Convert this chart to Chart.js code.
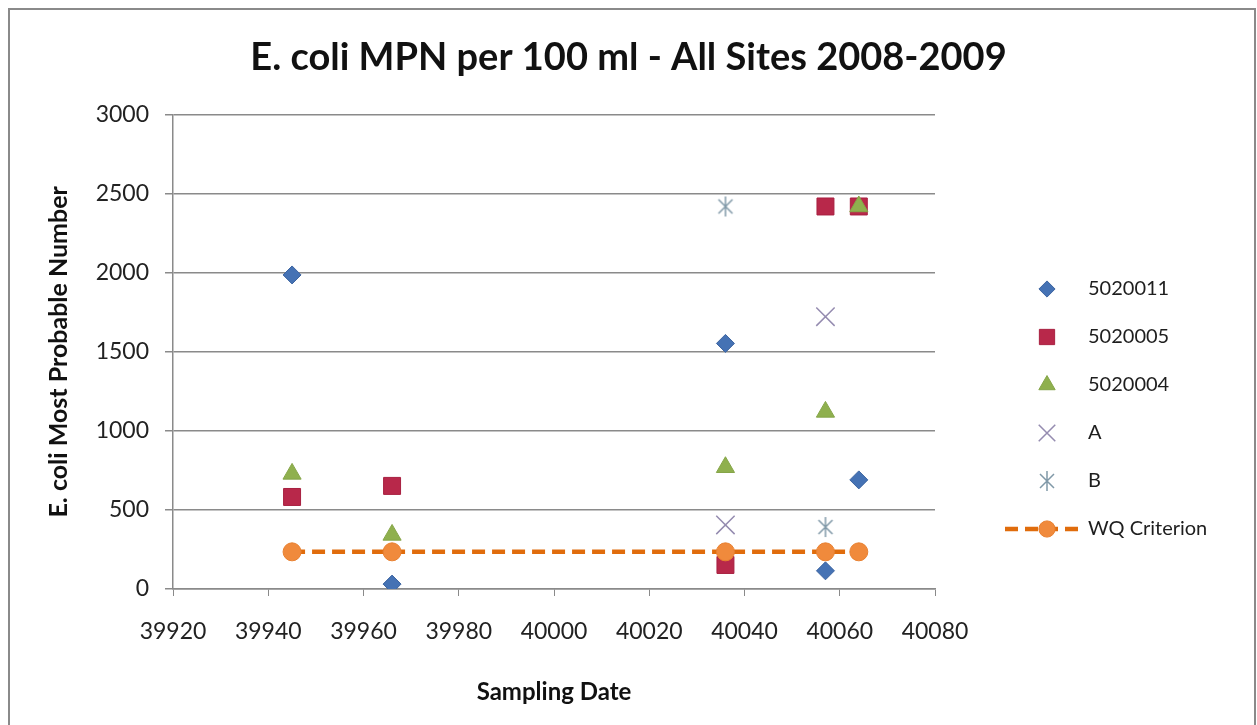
<!DOCTYPE html>
<html>
<head>
<meta charset="utf-8">
<script src="https://cdn.jsdelivr.net/npm/chart.js@4/dist/chart.umd.min.js"></script>
<style>
  body { margin: 0; background: #fff; }
  #frame { position: absolute; left: 8px; top: 8px; width: 1244px; height: 740px; border: 2px solid #8a8a8a; }
  #wrap { position: absolute; left: 0; top: 0; width: 1257px; height: 725px; }
</style>
</head>
<body>
<div id="frame"></div>
<div id="wrap"><canvas id="ecoli" width="1257" height="725"></canvas></div>
<script>
// sampling dates (excel serial numbers) and MPN readings per site
var site5020011X = [39945, 39966, 40036, 40057, 40064];
var site5020011Y = [1986, 31, 1553, 115, 690];
var site5020005X = [39945, 39966, 40036, 40057, 40064];
var site5020005Y = [582, 652, 152, 2419, 2419];
var site5020004X = [39945, 39966, 40036, 40057, 40064];
var site5020004Y = [728, 342, 770, 1120, 2419];
var siteAX = [40036, 40057];
var siteAY = [405, 1722];
var siteBX = [40036, 40057];
var siteBY = [2419, 392];
var wqX = [39945, 39966, 40036, 40057, 40064];
var wqY = [235, 235, 235, 235, 235];

var xTicks = [39920, 39940, 39960, 39980, 40000, 40020, 40040, 40060, 40080];
var yTicks = [0, 500, 1000, 1500, 2000, 2500, 3000];

var FONT = 'Lato, "Open Sans", sans-serif';

function pts(xs, ys) {
    var out = [];
    for (var i = 0; i < xs.length; i++) out.push({x: xs[i], y: ys[i]});
    return out;
}

// excel "star" marker: X with a vertical bar
function starMarker(color) {
    var c = document.createElement('canvas');
    c.width = 22; c.height = 22;
    var g = c.getContext('2d');
    g.strokeStyle = color;
    g.lineWidth = 1.5;
    g.beginPath();
    g.moveTo(4, 4); g.lineTo(18, 18);
    g.moveTo(18, 4); g.lineTo(4, 18);
    g.moveTo(11, 1); g.lineTo(11, 21);
    g.stroke();
    return c;
}
var bMarker = starMarker('#8099a8');

var datasets = [
    { label: '5020011', data: pts(site5020011X, site5020011Y), pointStyle: 'rectRot', pointRadius: 9,
      backgroundColor: '#4572b4', borderColor: '#3c64a0', pointBorderWidth: 1, order: 6 },
    { label: '5020005', data: pts(site5020005X, site5020005Y), pointStyle: 'rect', pointRadius: 12,
      backgroundColor: '#b8284a', borderColor: '#a82040', pointBorderWidth: 1, order: 5 },
    { label: '5020004', data: pts(site5020004X, site5020004Y), pointStyle: 'triangle', pointRadius: 10.5,
      backgroundColor: '#8fb04e', borderColor: '#85a548', pointBorderWidth: 1, order: 4 },
    { label: 'A', data: pts(siteAX, siteAY), pointStyle: 'crossRot', pointRadius: 13,
      backgroundColor: '#958cb0', borderColor: '#958cb0', pointBorderWidth: 1.5, order: 3 },
    { label: 'B', data: pts(siteBX, siteBY), pointStyle: bMarker, pointRadius: 11,
      backgroundColor: '#8099a8', borderColor: '#8099a8', pointBorderWidth: 1.5, order: 2 },
    { label: 'WQ Criterion', type: 'line', data: pts(wqX, wqY), showLine: true, pointStyle: 'circle', pointRadius: 9,
      backgroundColor: '#f08a3c', borderColor: '#e06c0c', borderWidth: 4.5, borderDash: [13, 7],
      pointBackgroundColor: '#f08a3c', pointBorderColor: '#e88030', pointBorderWidth: 1, order: 1 }
];

// legend drawn to look like the excel one (line + marker for WQ Criterion)
var sideLegend = {
    id: 'sideLegend',
    afterDraw: function(chart) {
        var ctx = chart.ctx;
        var top = 289, step = 48, mx = 1047, tx = 1088;
        ctx.save();
        chart.data.datasets.forEach(function(ds, i) {
            var y = top + i * step;
            if (ds.showLine) {
                ctx.strokeStyle = ds.borderColor;
                ctx.lineWidth = ds.borderWidth;
                ctx.setLineDash(ds.borderDash);
                ctx.beginPath();
                ctx.moveTo(1005, y); ctx.lineTo(1082, y);
                ctx.stroke();
                ctx.setLineDash([]);
            }
            ctx.fillStyle = ds.pointBackgroundColor || ds.backgroundColor;
            ctx.strokeStyle = ds.pointBorderColor || ds.borderColor;
            ctx.lineWidth = ds.pointBorderWidth;
            Chart.helpers.drawPoint(ctx, {
                pointStyle: ds.pointStyle, rotation: 0,
                radius: ds.pointRadius * 0.9, borderWidth: ds.pointBorderWidth
            }, mx, y);
            ctx.fillStyle = '#1e1e1e';
            ctx.font = '20px ' + FONT;
            ctx.textAlign = 'left';
            ctx.textBaseline = 'middle';
            ctx.fillText(ds.label, tx, y);
        });
        ctx.restore();
    }
};

var ctx = document.getElementById('ecoli').getContext('2d');
new Chart(ctx, {
    type: 'scatter',
    data: { datasets: datasets },
    plugins: [sideLegend],
    options: {
        responsive: false,
        animation: false,
        layout: { padding: { left: 0, right: 0, top: 0, bottom: 10 } },
        plugins: {
            legend: { display: false },
            tooltip: { enabled: false },
            title: {
                display: true,
                text: 'E. coli MPN per 100 ml - All Sites 2008-2009',
                color: '#111',
                font: { family: FONT, size: 38, weight: 'bold' },
                padding: { top: 35, bottom: 34 }
            }
        },
        scales: {
            x: {
                type: 'linear',
                min: xTicks[0], max: xTicks[xTicks.length - 1],
                afterBuildTicks: function(s) { s.ticks = xTicks.map(function(v) { return {value: v}; }); },
                afterFit: function(s) { s.height = 126; },
                grid: { drawOnChartArea: false, color: '#8a8a8a', tickLength: 7 },
                border: { color: '#8a8a8a', width: 1.5 },
                ticks: { color: '#222', font: { family: FONT, size: 23 }, padding: 22,
                         callback: function(v) { return String(v); } },
                title: { display: true, text: 'Sampling Date', color: '#111',
                         font: { family: FONT, size: 24, weight: 'bold' }, padding: { top: 7, bottom: 8 } }
            },
            y: {
                min: yTicks[0], max: yTicks[yTicks.length - 1],
                afterBuildTicks: function(s) { s.ticks = yTicks.map(function(v) { return {value: v}; }); },
                afterFit: function(s) { s.width = 173; },
                grid: { color: '#8a8a8a', lineWidth: 1.5, tickLength: 8 },
                border: { color: '#8a8a8a', width: 1.5 },
                ticks: { color: '#222', font: { family: FONT, size: 23 }, padding: 16,
                         callback: function(v) { return String(v); } },
                title: { display: true, text: 'E. coli Most Probable Number', color: '#111',
                         font: { family: FONT, size: 25, weight: 'bold' }, padding: { top: 44 } }
            },
            // empty right-hand box that keeps room for the legend
            side: {
                type: 'linear', position: 'right', axis: 'y', display: true,
                afterFit: function(s) { s.width = 322; },
                grid: { display: false }, border: { display: false }, ticks: { display: false }
            }
        }
    }
});
</script>
</body>
</html>
